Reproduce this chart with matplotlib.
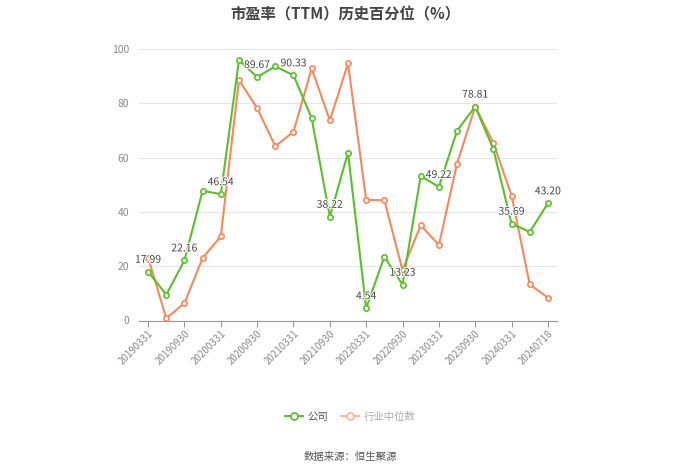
import matplotlib
matplotlib.use("Agg")
import matplotlib.pyplot as plt
import matplotlib.patheffects as pe
from matplotlib.lines import Line2D

plt.rcParams['font.family'] = ['Noto Sans CJK SC', 'DejaVu Sans']

dates = ["20190331", "20190630", "20190930", "20191231", "20200331", "20200630",
         "20200930", "20201231", "20210331", "20210630", "20210930", "20211231",
         "20220331", "20220630", "20220930", "20221231", "20230331", "20230630",
         "20230930", "20231231", "20240331", "20240630", "20240718"]
company = [17.99, 9.5, 22.16, 47.8, 46.54, 95.9, 89.67, 93.6, 90.33, 74.6, 38.22, 61.8,
           4.54, 23.5, 13.23, 53.2, 49.22, 69.9, 78.81, 63.1, 35.69, 32.6, 43.20]
industry = [23.2, 0.8, 6.4, 23.0, 31.0, 88.6, 78.2, 64.2, 69.5, 92.9, 73.7, 94.7,
            44.4, 44.3, 18.5, 35.1, 27.8, 57.8, 78.81, 65.4, 46.0, 13.3, 8.4]
labeled_idx = list(range(0, len(dates), 2))
yticks = [0, 20, 40, 60, 80, 100]

green = '#5ac02a'
orange = '#f7885a'

fig = plt.figure(figsize=(7, 4.74), dpi=100)
ax = fig.add_axes([139/700, 1-320.5/474, (557-139)/700, (320.5-49)/474])

x = list(range(len(dates)))
ax.plot(x, industry, color=orange, lw=1.5, marker='o', ms=3.8, mfc='white',
        mec=orange, mew=1.2, zorder=3)
ax.plot(x, company, color=green, lw=1.5, marker='o', ms=3.8, mfc='white',
        mec=green, mew=1.2, zorder=4)

for i in labeled_idx:
    ax.annotate(f"{company[i]:.2f}", (i, company[i]), xytext=(0, 5),
                textcoords='offset points', ha='center', va='bottom',
                fontsize=7.5, color='#444444', zorder=6,
                path_effects=[pe.withStroke(linewidth=1.5, foreground='white')])

ax.set_xlim(-0.5, len(dates) - 0.5)
ax.set_ylim(0, 100)
ax.set_yticks(yticks)
ax.set_yticklabels([str(v) for v in yticks])
ax.set_xticks(labeled_idx)
ax.set_xticklabels([dates[i] for i in labeled_idx], rotation=45, ha='right',
                   rotation_mode='anchor')

for s in ['top', 'right', 'left']:
    ax.spines[s].set_visible(False)
ax.spines['bottom'].set_color('#999999')
ax.spines['bottom'].set_linewidth(0.8)
ax.grid(axis='y', color='#e6e6e6', lw=0.8)
ax.set_axisbelow(True)
ax.tick_params(axis='y', length=0, labelsize=7.5, labelcolor='#888888', pad=7)
ax.tick_params(axis='x', length=4, color='#999999', labelsize=7, labelcolor='#888888', pad=2)

fig.text(0.494, 1-14/474, "市盈率（TTM）历史百分位（%）", ha='center', va='center',
         fontsize=11, fontweight='bold', color='#444444')

handles = [Line2D([0], [0], color=green, lw=1.5, marker='o', ms=5, mfc='white', mec=green, mew=1.3),
           Line2D([0], [0], color='#f9b8a0', lw=1.5, marker='o', ms=5, mfc='white', mec='#f9b8a0', mew=1.3)]
leg = fig.legend(handles, ['公司', '行业中位数'], loc='center', bbox_to_anchor=(0.5, 1-417/474),
                 ncol=2, frameon=False, fontsize=7.5, handlelength=1.8, columnspacing=1.2,
                 handletextpad=0.4)
leg.get_texts()[0].set_color('#555555')
leg.get_texts()[1].set_color('#aaaaaa')

fig.text(0.5, 1-457/474, "数据来源：恒生聚源", ha='center', va='center',
         fontsize=7.5, color='#555555')

fig.savefig("out.png", dpi=100)
